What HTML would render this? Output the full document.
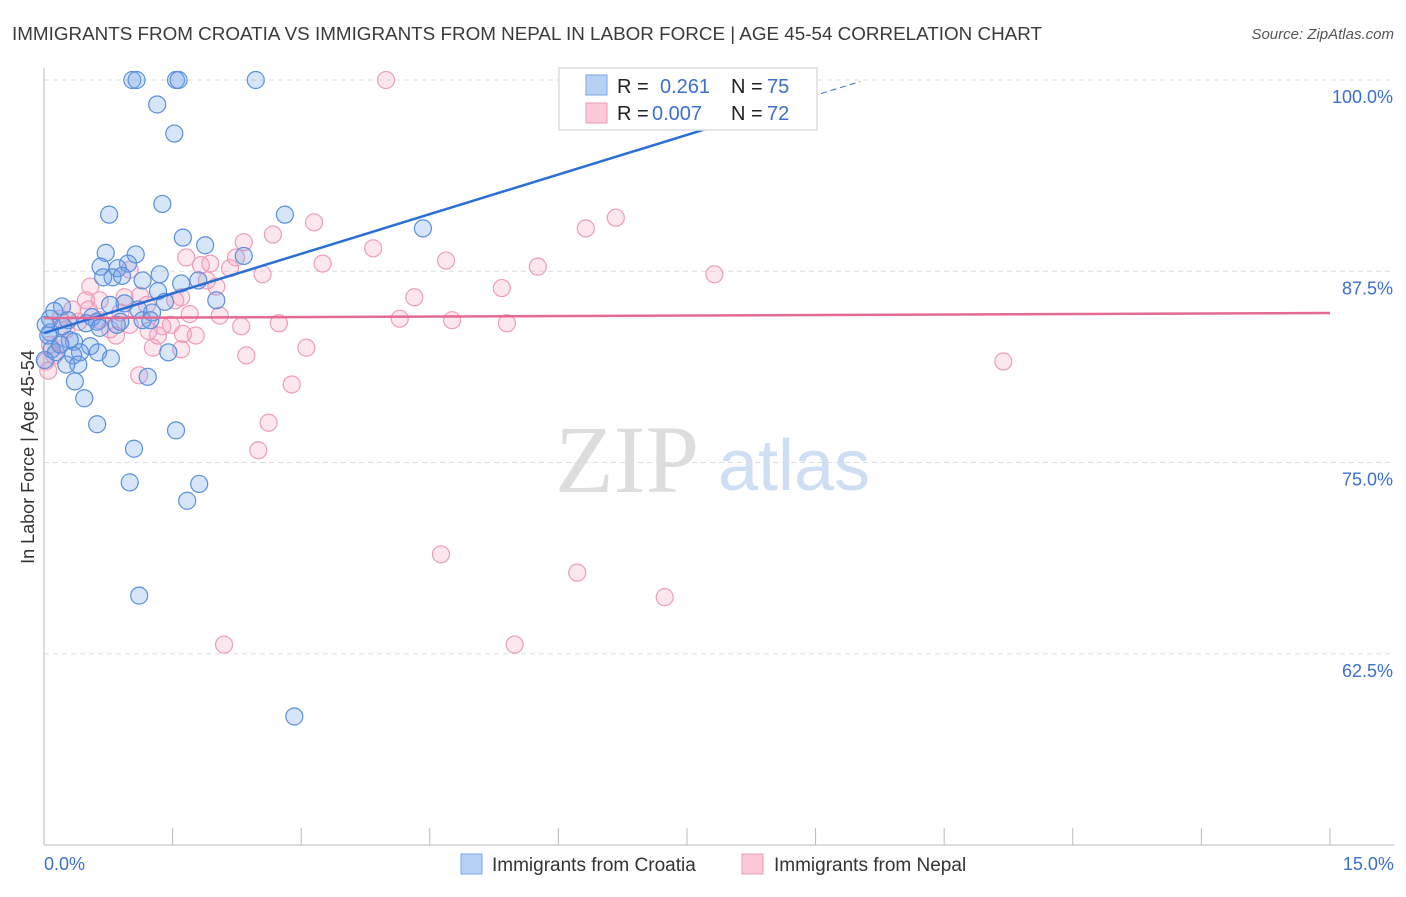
<!DOCTYPE html>
<html><head><meta charset="utf-8"><style>
body{margin:0;background:#fff;font-family:"Liberation Sans",sans-serif}
</style></head><body>
<svg id="chart" width="1406" height="892" xmlns="http://www.w3.org/2000/svg" font-family="Liberation Sans, sans-serif">
<text x="12" y="40" font-size="18" fill="#3a3a3a" textLength="1030" lengthAdjust="spacingAndGlyphs">IMMIGRANTS FROM CROATIA VS IMMIGRANTS FROM NEPAL IN LABOR FORCE | AGE 45-54 CORRELATION CHART</text>
<text x="1394" y="39" font-size="15" fill="#555" text-anchor="end" font-style="italic">Source: ZipAtlas.com</text>
<text x="555" y="492" font-size="96" font-family="Liberation Serif, serif" fill="#ddd">ZIP</text>
<text x="718" y="490" font-size="72" fill="#cfdff3">atlas</text>
<g id="grid"></g>
<g id="axes"></g>
<g id="pts"></g>
<g id="lines"></g>
<text transform="translate(34,457) rotate(-90)" font-size="18" fill="#333" text-anchor="middle">In Labor Force | Age 45-54</text>
<g>
<rect x="559" y="68" width="258" height="62" fill="#fff" stroke="#ddd" stroke-width="1.5"/>
<rect x="586" y="75" width="21" height="20" fill="#b7d1f5" stroke="#7aa6e6"/>
<text x="617" y="93" font-size="20" fill="#222">R =</text>
<text x="660" y="93" font-size="20" fill="#3b6fd0">0.261</text>
<text x="731" y="93" font-size="20" fill="#222">N =</text>
<text x="767" y="93" font-size="20" fill="#3b6fd0">75</text>
<rect x="586" y="103" width="21" height="20" fill="#fcc9d8" stroke="#ec9ab4"/>
<text x="617" y="120" font-size="20" fill="#222">R =</text>
<text x="652" y="120" font-size="20" fill="#3b6fd0">0.007</text>
<text x="731" y="120" font-size="20" fill="#222">N =</text>
<text x="767" y="120" font-size="20" fill="#3b6fd0">72</text>
</g>
<g>
<rect x="461" y="854" width="21" height="20" fill="#b7d1f5" stroke="#7aa6e6"/>
<text x="492" y="871" font-size="19" fill="#333">Immigrants from Croatia</text>
<rect x="742" y="854" width="21" height="20" fill="#fcc9d8" stroke="#ec9ab4"/>
<text x="774" y="871" font-size="19" fill="#333">Immigrants from Nepal</text>
</g>
</svg>
<script>
const blueX=[1.03,1.08,1.54,1.57,2.47,1.32,1.52,1.38,0.76,2.81,4.42,1.62,1.88,0.72,1.07,2.33,0.66,0.98,0.86,1.35,0.80,0.69,0.91,1.80,1.60,1.15,1.33,2.01,0.94,0.77,0.21,0.12,1.41,1.26,0.56,0.07,0.28,0.62,1.15,0.85,0.49,0.22,0.07,0.35,0.54,0.09,0.14,0.63,0.42,0.34,0.78,0.40,0.26,1.45,1.21,0.36,0.47,0.62,1.05,1.54,1.00,1.81,1.67,1.11,2.92,0.05,0.30,0.89,1.10,0.01,0.19,0.65,1.24,0.02];
const blueY=[100,100,100,100,100,98.4,96.5,91.9,91.2,91.2,90.3,89.7,89.2,88.7,88.6,88.5,87.8,88.0,87.7,87.3,87.1,87.1,87.2,86.9,86.7,86.9,86.2,85.6,85.4,85.3,85.2,84.9,85.5,84.8,84.5,84.4,84.3,84.2,84.3,84.0,84.1,83.9,83.5,82.9,82.6,82.4,82.2,82.2,82.2,82.0,81.8,81.4,81.4,82.2,80.6,80.3,79.2,77.5,75.9,77.1,73.7,73.6,72.5,66.3,58.4,83.3,83.0,84.2,85.0,81.7,82.7,83.8,84.3,84.0];
const pinkX=[3.99,6.67,3.15,6.32,2.67,2.33,3.84,4.69,2.24,1.66,1.94,1.83,2.17,3.25,5.76,7.82,2.55,1.00,1.90,0.54,5.34,1.60,4.32,0.94,0.49,2.01,1.20,0.33,0.89,1.70,2.05,4.15,4.76,5.40,2.74,2.30,1.48,1.38,1.22,0.84,1.33,1.62,1.77,0.52,0.65,0.19,1.27,1.60,3.06,0.12,2.36,0.02,11.19,1.11,2.89,2.62,2.50,4.63,6.22,7.24,2.10,5.49,0.19,0.40,0.77,1.00,0.07,0.26,1.12,1.53,0.65,0.05];
const pinkY=[100,91.0,90.7,90.3,89.9,89.4,89.0,88.2,88.4,88.4,88.0,87.9,87.7,88.0,87.8,87.3,87.3,87.6,86.9,86.5,86.4,85.8,85.8,85.8,85.6,86.5,85.3,85.0,84.8,84.7,84.6,84.4,84.3,84.1,84.1,83.9,84.0,83.9,83.6,83.3,83.3,83.4,83.3,85.0,84.3,82.8,82.5,82.4,82.5,82.0,82.0,81.6,81.6,80.7,80.1,77.6,75.8,69.0,67.8,66.2,63.1,63.1,84.4,84.2,83.7,84.0,82.7,83.7,85.9,85.6,85.6,81.0];
const yTicks=[100,87.5,75,62.5];
const yTickLabels=["100.0%","87.5%","75.0%","62.5%"];
const xTicks=[0,1.5,3,4.5,6,7.5,9,10.5,12,13.5,15];
const blueTrend=[83.46,1.727];
const pinkTrend=[84.44,0.022];
const NS="http://www.w3.org/2000/svg";
const X=v=>44+v*85.73, Y=v=>80+(100-v)*15.3;
function mk(tag,attrs,parent){const e=document.createElementNS(NS,tag);for(const k in attrs)e.setAttribute(k,attrs[k]);parent.appendChild(e);return e;}
const grid=document.getElementById('grid'),axes=document.getElementById('axes'),pts=document.getElementById('pts'),lines=document.getElementById('lines');
yTicks.forEach((t,i)=>{
 const l=mk('line',{x1:44,x2:1394,y1:Y(t),y2:Y(t),stroke:'#ddd','stroke-dasharray':'5,4'},grid);
 
 
 const tx=mk('text',{x:1393,y:Y(t)+23,'font-size':18,fill:'#3b6fd0','text-anchor':'end'},axes);
 tx.textContent=yTickLabels[i];
 
 
});
const ax=mk('line',{x1:44,x2:44,y1:68,y2:845,stroke:'#bbb'},axes);


const bx=mk('line',{x1:44,x2:1394,y1:845,y2:845,stroke:'#bbb'},axes);


xTicks.forEach(t=>{const l=mk('line',{x1:X(t),x2:X(t),y1:828,y2:845,stroke:'#bbb'},axes);
 
 });
[[X(0),'start','0.0%'],[X(15)+64,'end','15.0%']].forEach(([x,a,s])=>{const t=mk('text',{x:x,y:870,'font-size':18,fill:'#3b6fd0','text-anchor':a},axes);t.textContent=s;
 
 });
pinkX.forEach((v,i)=>{const c=mk('circle',{cx:X(v),cy:Y(pinkY[i]),r:8.5,fill:'rgba(244,160,188,0.25)',stroke:'#ee9db7','stroke-width':1.2},pts);
 
 });
blueX.forEach((v,i)=>{const c=mk('circle',{cx:X(v),cy:Y(blueY[i]),r:8.5,fill:'rgba(110,160,235,0.28)',stroke:'#5a8fdc','stroke-width':1.2},pts);
 
 });
const bt=v=>blueTrend[0]+blueTrend[1]*v, pt=v=>pinkTrend[0]+pinkTrend[1]*v;
const b1=mk('line',{x1:X(0),y1:Y(bt(0)),x2:X(8.06),y2:Y(bt(8.06)),stroke:'#2a6fd6','stroke-width':2.5},lines);


const b2=mk('line',{x1:X(8.06),y1:Y(bt(8.06)),x2:X(9.52),y2:Y(bt(9.52)),stroke:'#2a6fd6','stroke-width':1,'stroke-dasharray':'6,4'},lines);


const p1=mk('line',{x1:X(0),y1:Y(pt(0)),x2:X(15),y2:Y(pt(15)),stroke:'#e36a92','stroke-width':2.5},lines);


</script>
</body></html>
